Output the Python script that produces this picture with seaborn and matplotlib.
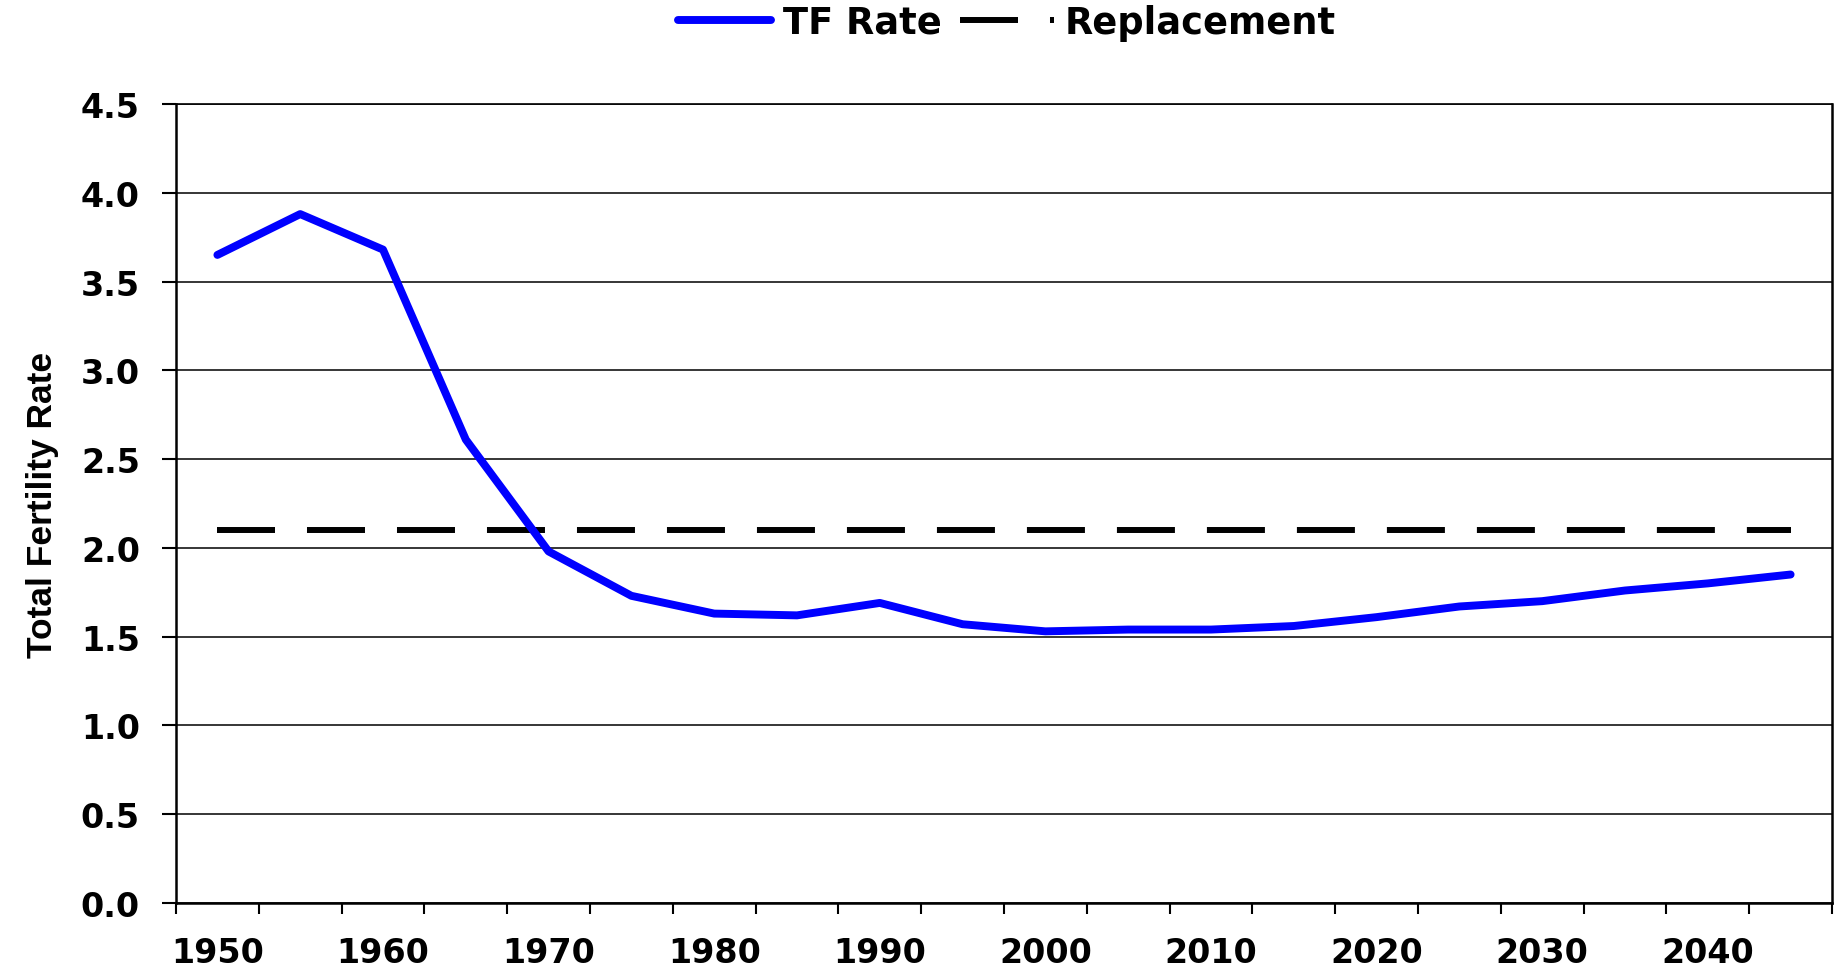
import matplotlib
matplotlib.use("Agg")
import matplotlib.pyplot as plt
from matplotlib.ticker import MultipleLocator, FormatStrFormatter
import numpy as np
import pandas as pd
import seaborn as sns

# five-year periods, values
years = [1950, 1955, 1960, 1965, 1970, 1975, 1980, 1985, 1990, 1995,
         2000, 2005, 2010, 2015, 2020, 2025, 2030, 2035, 2040, 2045]
tf_rate = [3.65, 3.88, 3.68, 2.61, 1.98, 1.73, 1.63, 1.62, 1.69, 1.57,
           1.53, 1.54, 1.54, 1.56, 1.61, 1.67, 1.70, 1.76, 1.80, 1.85]
replacement = [2.1] * len(years)

year_labels = [1950, 1960, 1970, 1980, 1990, 2000, 2010, 2020, 2030, 2040]

df = pd.DataFrame({"year": years, "TF Rate": tf_rate, "Replacement": replacement})

sns.set_style("white")
plt.rcParams["font.family"] = ["DejaVu Sans"]
plt.rcParams["font.weight"] = "bold"
plt.rcParams["text.color"] = "black"
plt.rcParams["axes.labelcolor"] = "black"
plt.rcParams["xtick.color"] = "black"
plt.rcParams["ytick.color"] = "black"

fig = plt.figure(figsize=(18.37, 9.70), dpi=100)
ax = fig.add_axes([176 / 1837, 66 / 970, (1832 - 176) / 1837, (904 - 105) / 970])

sns.lineplot(data=df, x="year", y="TF Rate", ax=ax, color="#0000ff",
             linewidth=5.7, solid_capstyle="round", label="TF Rate", zorder=4)
sns.lineplot(data=df, x="year", y="Replacement", ax=ax, color="black",
             linewidth=4.3, label="Replacement", zorder=3)
rep_line = ax.lines[1]
rep_line.set_dashes((58 / 1.389 / 4.3, 32 / 1.389 / 4.3))
rep_line.set_dash_capstyle("butt")

ax.set_xlim(1947.5, 2047.5)
ax.set_ylim(0, 4.5)

ax.set_xticks(year_labels)
ax.set_xticklabels([str(y) for y in year_labels])
ax.set_xticks(np.arange(1947.5, 2048, 5), minor=True)
ax.tick_params(axis="x", which="major", length=0, pad=24, labelsize=24,
               labelcolor="black")
ax.tick_params(axis="x", which="minor", length=8, width=1.5, color="black",
               direction="out", bottom=True)

ax.yaxis.set_major_locator(MultipleLocator(0.5))
ax.yaxis.set_major_formatter(FormatStrFormatter("%.1f"))
ax.tick_params(axis="y", which="major", length=10, width=1.5, color="black",
               direction="out", left=True, pad=16, labelsize=24,
               labelcolor="black")

for lab in ax.get_xticklabels() + ax.get_yticklabels():
    lab.set_fontweight("bold")

ax.grid(axis="y", color="black", linewidth=1.1)
ax.grid(axis="x", visible=False)
for side in ["left", "bottom", "right"]:
    ax.spines[side].set_visible(True)
    ax.spines[side].set_color("black")
    ax.spines[side].set_linewidth(1.8)
ax.spines["top"].set_visible(True)
ax.spines["top"].set_color("black")
ax.spines["top"].set_linewidth(1.2)

ax.set_xlabel("")
ax.set_ylabel("Total Fertility Rate", fontsize=25.5, fontweight="bold",
              color="black", family=["Liberation Sans", "DejaVu Sans"])
ax.yaxis.set_label_coords(-0.0707, 0.5)

handles, labels = ax.get_legend_handles_labels()
ax.get_legend().remove()
fig.legend(handles, labels, loc="center", bbox_to_anchor=(0.548, 0.976),
           ncol=2, frameon=False, handlelength=2.55, handletextpad=0.3,
           columnspacing=0.5, borderaxespad=0, borderpad=0,
           prop={"size": 26.5, "weight": "bold"}, labelcolor="black")

fig.savefig("out.png", dpi=100)
plt.close(fig)
